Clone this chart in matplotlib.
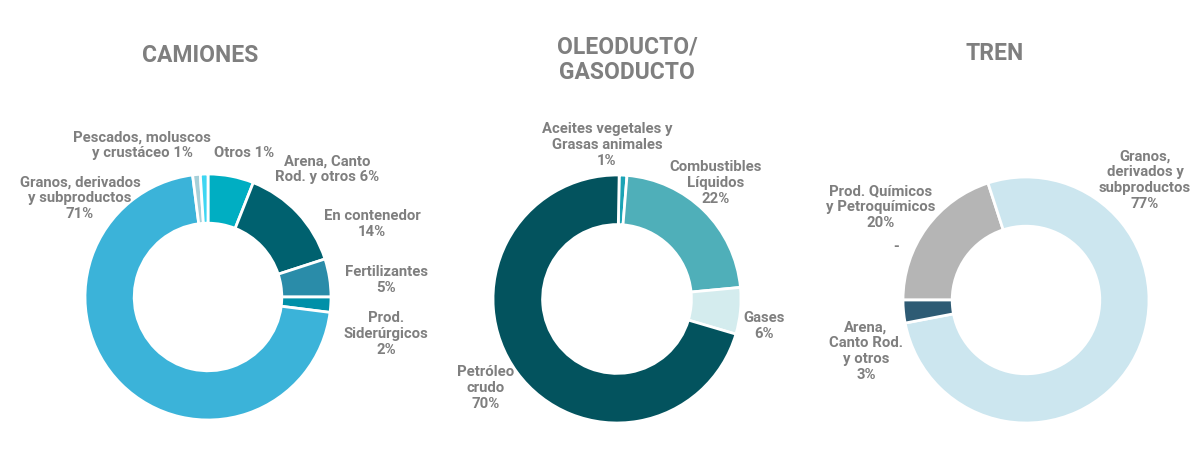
import matplotlib.pyplot as plt

plt.rcParams['font.family'] = ['Roboto', 'DejaVu Sans']

# --- datos ---
camiones_labels = ["Arena, Canto\nRod. y otros 6%", "En contenedor\n14%", "Fertilizantes\n5%",
                   "Prod.\nSiderúrgicos\n2%", "Granos, derivados\ny subproductos\n71%",
                   "Pescados, moluscos\ny crustáceo 1%", "Otros 1%"]
camiones_vals = [6, 14, 5, 2, 71, 1, 1]
camiones_cols = ["#00AEC2", "#00616F", "#2A8CA9", "#0090A8", "#3BB3D9", "#A6CFD8", "#3FD6F2"]

ducto_labels = ["Aceites vegetales y\nGrasas animales\n1%", "Combustibles\nLíquidos\n22%",
                "Gases\n6%", "Petróleo\ncrudo\n70%"]
ducto_vals = [1, 22, 6, 70]
ducto_cols = ["#1BA3B5", "#4FAFB9", "#D4ECEE", "#03535E"]

tren_labels = ["Prod. Químicos\ny Petroquímicos\n20%", "Granos,\nderivados y\nsubproductos\n77%",
               "Arena,\nCanto Rod.\ny otros\n3%"]
tren_vals = [20, 77, 3]
tren_cols = ["#B5B5B5", "#CCE6EF", "#2E5B74"]

titles = ["CAMIONES", "OLEODUCTO/\nGASODUCTO", "TREN"]

W, H = 1200, 459
GRAY = "#7F7F7F"

fig = plt.figure(figsize=(12, 4.59), dpi=100)
ax = fig.add_axes([0, 0, 1, 1])

def donut(vals, cols, cx, cy, r, start):
    ax.pie(vals, colors=cols, center=(cx, H - cy), radius=r, startangle=start,
           counterclock=False,
           wedgeprops=dict(width=r * 0.4, edgecolor="white", linewidth=2))

donut(camiones_vals, camiones_cols, 208, 297, 123, 90)
donut(ducto_vals, ducto_cols, 617, 299, 124, 89)
donut(tren_vals, tren_cols, 1026, 300, 123, 180)

ax.set_xlim(0, W)
ax.set_ylim(0, H)
ax.set_aspect("equal")
ax.axis("off")

def lab(txt, x, y):
    ax.text(x, H - y, txt, ha="center", va="center", fontsize=10.7, fontweight="bold",
            color=GRAY, linespacing=1.17)

# etiquetas camiones
pos_cam = [(327, 169), (372, 224), (386, 280), (386, 334), (80, 198), (142, 145), (244, 153)]
for t, (x, y) in zip(camiones_labels, pos_cam):
    lab(t, x, y)

pos_duc = [(607, 145), (716, 183), (764, 326), (486, 388)]
for t, (x, y) in zip(ducto_labels, pos_duc):
    lab(t, x, y)

pos_tren = [(881, 207), (1145, 180), (866, 351)]
for t, (x, y) in zip(tren_labels, pos_tren):
    lab(t, x, y)
lab("-", 896, 247)

# titulos
for t, (x, y) in zip(titles, [(200, 55), (627, 60), (995, 53)]):
    ax.text(x, H - y, t, ha="center", va="center", fontsize=16.5, fontweight="bold",
            color=GRAY, linespacing=1.15)

fig.savefig("out.png", dpi=100)
